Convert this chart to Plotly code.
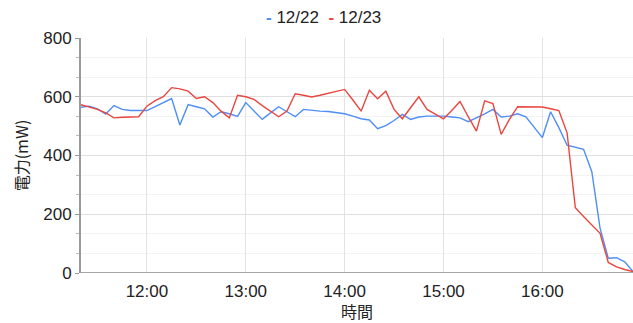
import pandas as pd
import plotly.graph_objects as go

# Power readings every 5 minutes from 11:20 to 16:55
start_time = "2000-01-01 11:20"
n_points = 68
times = pd.date_range(start_time, periods=n_points, freq="5min")

power_1222 = [
    564, 568, 559, 541, 570, 557, 553, 553, 553, 566, 580, 594,
    504, 573, 566, 559, 531, 549, 542, 533, 580, 551, 523, 545,
    566, 549, 532, 557, 553, 551, 550, 547, 542, 534, 525, 521,
    491, 502, 519, 540, 523, 531, 534, 534, 534, 531, 528, 515,
    528, 542, 557, 531, 534, 542, 532, 497, 461, 549, 495, 435,
    427, 421, 345, 153, 50, 52, 38, 5,
]
power_1223 = [
    573, 566, 557, 545, 528, 530, 531, 532, 568, 587, 600, 631,
    627, 619, 594, 600, 580, 551, 528, 605, 600, 591, 570, 551,
    532, 551, 610, 605, 599, 605, 611, 618, 625, 589, 551, 622,
    593, 619, 557, 525, 562, 600, 557, 542, 525, 553, 584, 532,
    483, 586, 577, 472, 523, 566, 566, 566, 565, 559, 553, 477,
    222, 192, 162, 135, 36, 21, 12, 5,
]

series_names = ["12/22", "12/23"]
series_colors = ["#4f8ef5", "#e9463f"]
y_ticks = [0, 200, 400, 600, 800]

font_family = "Liberation Sans, Arial, Noto Sans CJK JP, sans-serif"

fig = go.Figure()
for name, values, color in zip(series_names, [power_1222, power_1223], series_colors):
    fig.add_trace(go.Scatter(
        x=times, y=values, name=name, mode="lines",
        line=dict(color=color, width=1.4),
        showlegend=False,
    ))

# Compact legend drawn as a single centred line of text
legend_text = "&nbsp;&nbsp;".join(
    f"<span style='color:{c}'><b>-</b></span> {n}" for n, c in zip(series_names, series_colors)
)
fig.add_annotation(
    text=legend_text, xref="paper", yref="paper", x=0.44, y=1.0,
    xanchor="center", yanchor="bottom", yshift=9, showarrow=False,
    font=dict(size=17, color="#222222", family=font_family),
)

fig.update_layout(
    width=633, height=323,
    margin=dict(l=81, r=0, t=38, b=50),
    paper_bgcolor="white", plot_bgcolor="white",
    font=dict(family=font_family, size=17, color="#222222"),
    xaxis=dict(
        range=[times[0], times[-1]],
        tickformat="%H:%M", dtick=3600000,
        showgrid=True, gridcolor="#e3e3e3", gridwidth=1,
        zeroline=False, showline=False,
        ticks="", ticklabelstandoff=6,
        title=dict(text="時間", font=dict(size=16, family="Noto Sans CJK JP"), standoff=10),
    ),
    yaxis=dict(
        range=[0, 800], tickvals=y_ticks,
        showgrid=True, gridcolor="#e0e0e0", gridwidth=1,
        zeroline=False,
        showline=True, linecolor="#9a9a9a", linewidth=2,
        ticks="outside", ticklen=4, tickcolor="#9a9a9a", tickwidth=1,
        minor=dict(dtick=200 / 3, showgrid=True, gridcolor="#f3f3f3",
                   ticks="outside", ticklen=3, tickcolor="#bbbbbb"),
        title=dict(text="電力(mW)", font=dict(size=16, family="Noto Sans CJK JP"), standoff=11),
    ),
)

# Baseline along the bottom of the plot area
fig.add_shape(type="line", xref="paper", yref="y", x0=0, x1=1, y0=0, y1=0,
              line=dict(color="#8a8a8a", width=1.5), layer="above")

fig.write_html("out.html")
